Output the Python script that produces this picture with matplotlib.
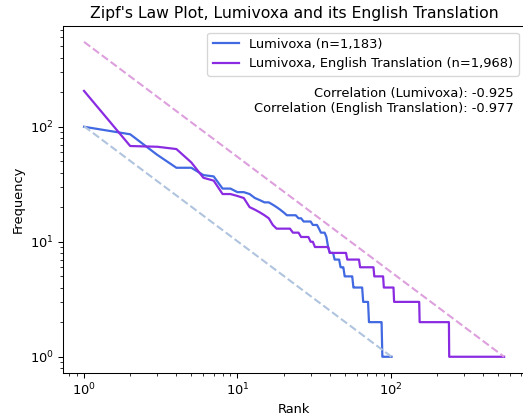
import numpy as np
import matplotlib
matplotlib.use("Agg")
import matplotlib.pyplot as plt

# word frequencies by rank, run-length encoded: (frequency, number of words)
lumi_freq = [100, 86, 57, 44, 38, 37, 29, 27, 26, 24, 23, 22, 21, 20, 19, 18,
             17, 16, 15, 14, 13, 12, 11, 9, 8, 7, 6, 5, 4, 3, 2, 1]
lumi_count = [1, 1, 1, 2, 1, 1, 2, 2, 1, 1, 1, 2, 1, 1, 1, 1,
              4, 2, 4, 3, 1, 3, 1, 1, 3, 4, 3, 7, 9, 6, 16, 14]

eng_freq = [205, 68, 67, 64, 49, 36, 34, 26, 25, 24, 20, 19, 18, 17, 16, 14,
            13, 12, 11, 10, 9, 8, 7, 6, 5, 4, 3, 2, 1]
eng_count = [1, 1, 1, 1, 1, 1, 1, 2, 1, 1, 1, 1, 1, 1, 1, 1,
             5, 3, 4, 2, 8, 12, 11, 15, 12, 15, 49, 86, 308]

lumi_tokens = 1183
eng_tokens = 1968
corr_lumi = -0.925
corr_eng = -0.977


def expand(freqs, counts):
    f = np.repeat(freqs, counts)
    r = np.arange(1, len(f) + 1)
    return r, f


lumi_rank, lumi_f = expand(lumi_freq, lumi_count)
eng_rank, eng_f = expand(eng_freq, eng_count)

dpi = 94
fig, ax = plt.subplots(figsize=(523 / dpi, 415 / dpi), dpi=dpi)
# right edge of the axes sits just past the image border, as in the original
fig.subplots_adjust(left=0.1205, right=1.004, top=0.937, bottom=0.1024)

ax.loglog(lumi_rank, lumi_f, color="royalblue", lw=1.7,
          label=f"Lumivoxa (n={lumi_tokens:,})")
ax.loglog(eng_rank, eng_f, color="blueviolet", lw=1.7,
          label=f"Lumivoxa, English Translation (n={eng_tokens:,})")

# ideal zipf lines
ax.loglog(lumi_rank, len(lumi_rank) / lumi_rank, "--", color="lightsteelblue", lw=1.6)
ax.loglog(eng_rank, len(eng_rank) / eng_rank, "--", color="plum", lw=1.6)

ax.set_title("Zipf's Law Plot, Lumivoxa and its English Translation")
ax.set_xlabel("Rank")
ax.set_ylabel("Frequency")
ax.legend(loc="upper right")
ax.text(0.975, 0.785,
        f"Correlation (Lumivoxa): {corr_lumi:.3f}\n"
        f"Correlation (English Translation): {corr_eng:.3f}",
        transform=ax.transAxes, ha="right", va="center")

fig.savefig("out.png", dpi=dpi)
